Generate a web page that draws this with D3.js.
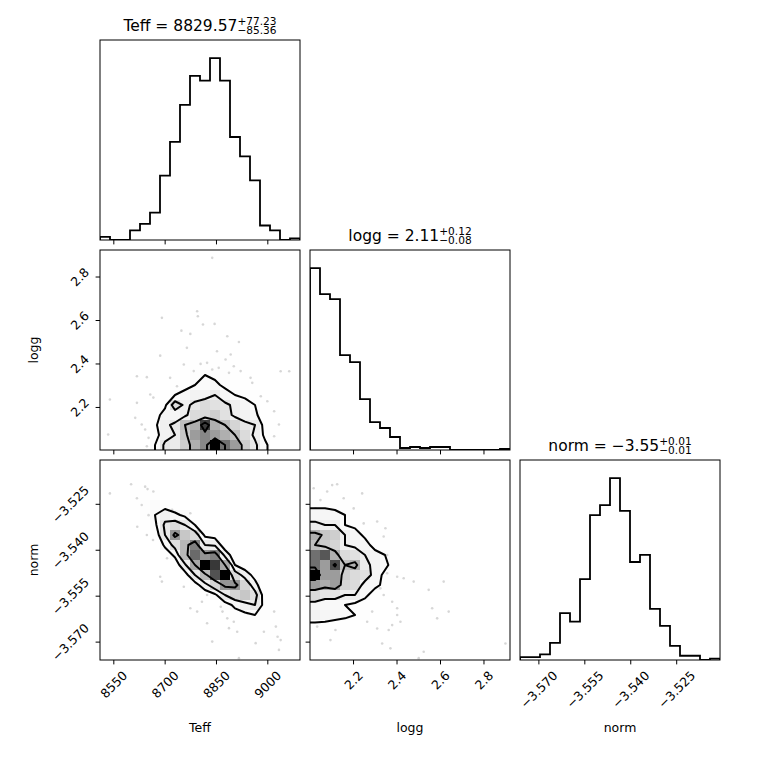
<!DOCTYPE html>
<html>
<head>
<meta charset="utf-8">
<script src="https://cdn.jsdelivr.net/npm/d3@7"></script>
<style>
  body { margin: 0; background: #fff; }
  text { font-family: "DejaVu Sans", sans-serif; fill: #000; }
</style>
</head>
<body>
<svg id="corner" width="760" height="760"></svg>
<script>
// parameters
const labels = ["Teff", "logg", "norm"];
const ranges = [[8511.1, 9095.5], [2.002, 2.922], [-3.5760, -3.5107]];
const nBins = 20;
const ticks = [[8550, 8700, 8850, 9000], [2.2, 2.4, 2.6, 2.8], [-3.570, -3.555, -3.540, -3.525]];
const tickFormats = [d3.format("d"), d3.format(".1f"), d3.format(".3f")];

// quantiles for the titles
const q50 = [8829.57, 2.11, -3.55];
const qPlus = [77.23, 0.12, 0.01];
const qMinus = [85.36, 0.08, 0.01];

// 1D histograms (counts per bin)
const histTeff = [2, 0, 0, 6, 10, 17, 40, 61, 84, 102, 99, 113, 99, 64, 52, 37, 9, 6, 0, 1];
const histLogg = [182, 156, 151, 95, 88, 51, 28, 22, 13, 2, 3, 2, 3, 3, 0, 0, 0, 0, 0, 1];
const histNorm = [2, 2, 4, 12, 33, 27, 57, 102, 109, 128, 105, 69, 74, 36, 24, 10, 3, 3, 0, 1];

// 2D histograms, first row = lowest bin of the y parameter
const gridTeffLogg = [
  [0,0,0,1,1,4,10,9,14,18,22,32,24,20,14,10,5,1,0,0],
  [1,0,0,1,0,2,7,9,15,20,22,20,18,16,12,8,3,2,0,0],
  [0,0,0,1,1,3,8,10,16,18,28,18,16,13,10,9,2,2,0,0],
  [0,0,0,1,0,2,6,6,8,12,12,14,11,8,7,5,1,1,0,1],
  [0,0,0,0,0,1,3,12,8,10,12,11,10,8,6,4,1,0,0,0],
  [1,0,0,0,0,1,2,4,5,7,7,9,6,4,3,2,1,0,0,0],
  [0,0,0,0,0,0,1,2,3,4,4,5,3,2,2,1,1,0,0,0],
  [0,0,0,0,1,0,0,1,2,3,4,3,3,2,1,1,0,1,0,0],
  [0,0,0,0,0,0,0,1,1,2,2,2,2,1,1,0,1,0,0,0],
  [0,0,0,0,0,0,0,0,0,0,1,0,1,0,0,0,0,0,0,0],
  [0,0,0,0,0,0,0,0,1,0,0,1,0,1,0,0,0,0,0,0],
  [0,0,0,0,0,0,0,0,0,0,1,0,1,0,0,0,0,0,0,0],
  [0,0,0,0,0,0,0,1,0,0,0,1,0,1,0,0,0,0,0,0],
  [0,0,0,0,0,0,0,0,0,0,1,0,0,0,0,0,0,0,0,0],
  [0,0,0,0,0,0,0,0,0,0,0,0,0,0,0,0,0,0,0,0],
  [0,0,0,0,0,0,0,0,0,0,0,0,0,0,0,0,0,0,0,0],
  [0,0,0,0,0,0,0,0,0,0,0,0,0,0,0,0,0,0,0,0],
  [0,0,0,0,0,0,0,0,0,0,0,0,0,0,0,0,0,0,0,0],
  [0,0,0,0,0,0,0,0,0,0,0,0,0,0,0,0,0,0,0,0],
  [0,0,0,0,0,0,0,0,0,0,0,1,0,0,0,0,0,0,0,0]
];
const gridTeffNorm = [
  [0,0,0,0,0,0,0,0,0,0,0,0,0,0,0,0,0,0,0,1],
  [0,0,0,0,0,0,0,0,0,0,0,0,0,0,0,0,0,1,0,0],
  [0,0,0,0,0,0,0,0,0,0,0,0,0,0,0,0,1,2,0,0],
  [0,0,0,0,0,0,0,0,0,0,0,0,0,0,0,2,1,2,0,0],
  [0,0,0,0,0,0,0,0,0,0,0,0,0,3,4,5,3,1,0,0],
  [0,0,0,0,0,0,0,0,0,0,0,1,3,6,8,10,3,0,0,0],
  [0,0,0,0,0,0,0,0,0,0,2,4,10,14,16,12,2,0,0,0],
  [0,0,0,0,0,0,0,0,0,3,8,14,22,22,14,7,0,0,0,0],
  [0,0,0,0,0,0,0,0,3,10,18,28,34,13,8,3,0,0,0,0],
  [0,0,0,0,0,0,0,2,9,20,34,30,20,5,2,0,0,0,0,0],
  [0,0,0,0,0,0,2,6,18,26,22,24,8,2,0,0,0,0,0,0],
  [0,0,0,0,0,0,6,12,18,24,10,9,2,0,0,0,0,0,0,0],
  [0,0,0,0,0,2,10,22,16,13,4,3,0,0,0,0,0,0,0,0],
  [0,0,0,0,2,4,11,13,10,5,1,0,0,0,0,0,0,0,0,0],
  [0,0,0,1,3,5,8,6,4,1,0,0,0,0,0,0,0,0,0,0],
  [0,0,0,2,3,4,3,2,0,0,0,0,0,0,0,0,0,0,0,0],
  [1,0,0,2,2,2,0,0,0,0,0,0,0,0,0,0,0,0,0,0],
  [1,0,0,1,0,0,0,0,0,0,0,0,0,0,0,0,0,0,0,0],
  [0,0,0,0,0,0,0,0,0,0,0,0,0,0,0,0,0,0,0,0],
  [0,0,0,0,0,0,0,0,0,0,0,0,0,0,0,0,0,0,0,0]
];
const gridLoggNorm = [
  [0,0,0,0,0,0,0,0,0,0,0,0,0,0,0,0,0,0,0,0],
  [0,0,0,0,0,0,0,0,0,0,0,1,0,0,0,0,0,0,0,0],
  [1,0,0,0,0,1,0,0,1,0,0,0,1,0,0,0,0,0,0,0],
  [3,3,2,2,1,0,0,1,0,0,1,0,0,0,0,0,0,0,0,0],
  [7,6,6,5,4,3,1,1,1,0,0,0,0,0,0,0,0,0,0,0],
  [6,5,5,4,3,2,1,1,0,1,0,0,1,1,0,0,0,0,0,1],
  [12,10,10,8,8,5,2,1,1,0,1,0,1,1,0,0,0,0,0,0],
  [20,18,20,13,12,6,5,3,2,1,1,1,0,1,0,0,0,0,0,0],
  [32,20,20,14,12,11,6,3,2,0,0,0,0,0,0,0,0,0,0,0],
  [24,20,27,16,18,9,7,5,2,0,0,0,0,0,0,0,0,0,0,0],
  [24,26,18,12,11,8,6,4,1,0,0,0,0,0,0,0,0,0,0,0],
  [16,14,13,8,7,6,2,2,1,0,0,0,0,0,0,0,0,0,0,0],
  [18,15,14,8,6,3,2,2,1,0,0,0,0,0,0,0,0,0,0,0],
  [9,8,8,4,3,1,1,1,1,0,0,0,0,0,0,0,0,0,0,0],
  [6,6,5,4,1,0,0,1,0,0,0,0,0,0,0,0,0,0,0,0],
  [3,3,3,2,0,0,0,0,0,0,0,0,0,0,0,0,0,0,0,0],
  [1,1,0,0,0,0,0,0,0,0,0,0,0,0,0,0,0,0,0,0],
  [0,1,1,0,0,0,0,0,0,0,0,0,0,0,0,0,0,0,0,0],
  [0,0,0,0,0,0,0,0,0,0,0,0,0,0,0,0,0,0,0,0],
  [0,0,0,0,0,0,0,0,0,0,0,0,0,0,0,0,0,0,0,0]
];

// samples visible outside the outer contour
const pointsTeffLogg = [
  [8839,2.886],[8692,2.610],[8795,2.640],[8797,2.617],[8846,2.582],[8812,2.579],[8749,2.551],
  [8775,2.536],[8883,2.525],[8917,2.499],[8687,2.436],[8765,2.472],[8756,2.395],[8805,2.398],
  [8824,2.403],[8839,2.372],[8858,2.380],[8878,2.418],[8902,2.387],[8785,2.365],[8888,2.357],
  [8922,2.365],[8619,2.341],[8648,2.337],[9039,2.364],[9064,2.364],[8540,2.234],[8619,2.219],
  [8658,2.257],[8667,2.243],[8614,2.150],[8633,2.119],[8643,2.096],[8653,2.058],[8648,2.019],
  [9020,2.180],[9034,2.119],[9020,2.065],[9000,2.226],[8981,2.249],[8956,2.311],[8990,2.019],
  [8535,2.073],[8951,2.334],[8716,2.334],[8736,2.295],[8893,2.441],[8853,2.456]
];
const pointsTeffNorm = [
  [8540,-3.5216],[8602,-3.5186],[8643,-3.5194],[8650,-3.5202],[8667,-3.5210],[8619,-3.5232],
  [8633,-3.5254],[8653,-3.5287],[8620,-3.5325],[8648,-3.5352],[8666,-3.5368],[8687,-3.5488],
  [8692,-3.5504],[8707,-3.5428],[8746,-3.5292],[8722,-3.5270],[8775,-3.5281],[8756,-3.5521],
  [8775,-3.5591],[8795,-3.5602],[8824,-3.5640],[8839,-3.5700],[8864,-3.5586],[8869,-3.5602],
  [8883,-3.5624],[8888,-3.5656],[8902,-3.5635],[8912,-3.5668],[8917,-3.5754],[8942,-3.5608],
  [8966,-3.5705],[8990,-3.5668],[9025,-3.5651],[9030,-3.5684],[9039,-3.5695],[9034,-3.5727],
  [9020,-3.5602],[8961,-3.5580],[8858,-3.5515],[8902,-3.5570],[8893,-3.5548],[8824,-3.5548],
  [8809,-3.5570]
];
const pointsLoggNorm = [
  [2.019,-3.5199],[2.081,-3.5210],[2.104,-3.5189],[2.127,-3.5186],[2.157,-3.5232],[2.242,-3.5216],
  [2.203,-3.5265],[2.050,-3.5238],[2.027,-3.5265],[2.249,-3.5314],[2.311,-3.5308],[2.349,-3.5330],
  [2.341,-3.5357],[2.357,-3.5417],[2.357,-3.5477],[2.403,-3.5488],[2.433,-3.5493],[2.479,-3.5504],
  [2.548,-3.5531],[2.617,-3.5504],[2.326,-3.5526],[2.341,-3.5548],[2.380,-3.5570],[2.403,-3.5591],
  [2.403,-3.5613],[2.418,-3.5635],[2.380,-3.5646],[2.364,-3.5662],[2.372,-3.5722],[2.334,-3.5706],
  [2.311,-3.5657],[2.288,-3.5602],[2.265,-3.5635],[2.502,-3.5754],[2.525,-3.5733],[2.564,-3.5591],
  [2.587,-3.5624],[2.640,-3.5602],[2.119,-3.5662],[2.096,-3.5695],[2.035,-3.5651],[2.019,-3.5613],
  [2.173,-3.5613],[2.901,-3.5706]
];

const sigmas = [0.5, 1.0, 1.5, 2.0];

// layout
const marginLeft = 100, marginTop = 40, size = 200, gap = 10;
const tickLen = 4.4, tickPad = 4.4, fontTick = 12.5, textH = 12.5;
const panelX = c => marginLeft + c * (size + gap);
const panelY = r => marginTop + r * (size + gap);

const svg = d3.select("#corner");
const defs = svg.append("defs");

const xScales = ranges.map((r, i) => d3.scaleLinear().domain(r).range([panelX(i), panelX(i) + size]));
const yScales = ranges.map((r, i) => d3.scaleLinear().domain(r).range([panelY(i) + size, panelY(i)]));
const edges = r => d3.range(nBins + 1).map(b => r[0] + b * (r[1] - r[0]) / nBins);

function clipFor(r, c) {
  const id = `clip-${r}-${c}`;
  defs.append("clipPath").attr("id", id).append("rect")
    .attr("x", panelX(c)).attr("y", panelY(r)).attr("width", size).attr("height", size);
  return `url(#${id})`;
}

// corner-style levels: density value enclosing each sigma mass fraction
function levelsFor(grid) {
  const flat = grid.flat().sort((a, b) => b - a);
  const total = d3.sum(flat);
  let cum = 0;
  const sm = flat.map(v => (cum += v) / total);
  const V = sigmas.map(s => {
    const frac = 1 - Math.exp(-0.5 * s * s);
    let v = flat[0];
    for (let n = 0; n < flat.length; n++) if (sm[n] <= frac) v = flat[n];
    return v;
  });
  V.sort((a, b) => a - b);
  let k = V.findIndex((v, n) => n > 0 && v === V[n - 1]);
  while (k > 0) {
    V[k - 1] *= 1 - 1e-4;
    V.sort((a, b) => a - b);
    k = V.findIndex((v, n) => n > 0 && v === V[n - 1]);
  }
  return V;
}

function padded(grid) {
  const ny = grid.length, nx = grid[0].length, W = nx + 4, Hh = ny + 4;
  const vals = new Array(W * Hh).fill(0);
  for (let r = 0; r < ny + 2; r++) {
    for (let c = 0; c < nx + 2; c++) {
      const sr = Math.min(Math.max(r - 1, 0), ny - 1);
      const sc = Math.min(Math.max(c - 1, 0), nx - 1);
      vals[(r + 1) * W + (c + 1)] = grid[sr][sc];
    }
  }
  return { vals, W, Hh };
}

// diagonal histograms
const hists = [histTeff, histLogg, histNorm];
hists.forEach((counts, i) => {
  const x = xScales[i];
  const e = edges(ranges[i]);
  const y = d3.scaleLinear().domain([0, 1.1 * d3.max(counts)]).range([panelY(i) + size, panelY(i)]);
  const pts = [[e[0], 0]];
  counts.forEach((n, b) => { pts.push([e[b], n]); pts.push([e[b + 1], n]); });
  pts.push([e[nBins], 0]);
  svg.append("path")
    .attr("clip-path", clipFor(i, i))
    .attr("d", d3.line().x(d => x(d[0])).y(d => y(d[1]))(pts))
    .attr("fill", "none").attr("stroke", "#000").attr("stroke-width", 1.8)
    .attr("stroke-linejoin", "miter");
});

// 2D panels
const pairs = [
  { row: 1, col: 0, grid: gridTeffLogg, points: pointsTeffLogg },
  { row: 2, col: 0, grid: gridTeffNorm, points: pointsTeffNorm },
  { row: 2, col: 1, grid: gridLoggNorm, points: pointsLoggNorm }
];

pairs.forEach(({ row, col, grid, points }) => {
  const X = xScales[col];
  const Y = d3.scaleLinear().domain(ranges[row]).range([panelY(row) + size, panelY(row)]);
  const ex = edges(ranges[col]), ey = edges(ranges[row]);
  const dX = ex[1] - ex[0], dY = ey[1] - ey[0];
  const g = svg.append("g").attr("clip-path", clipFor(row, col));

  g.selectAll("circle").data(points).join("circle")
    .attr("cx", d => X(d[0])).attr("cy", d => Y(d[1])).attr("r", 1.3)
    .attr("fill", "#000").attr("fill-opacity", 0.16);

  const V = levelsFor(grid);
  const hmax = d3.max(grid.flat());
  const { vals, W, Hh } = padded(grid);
  const contours = d3.contours().size([W, Hh]);
  const proj = d3.geoTransform({
    point(cx, cy) { this.stream.point(X(ex[0] + (cx - 2) * dX), Y(ey[0] + (cy - 2) * dY)); }
  });
  const path = d3.geoPath(proj);

  g.append("path").attr("d", path(contours.contour(vals, V[0])))
    .attr("fill", "#fff").attr("stroke", "none");

  const cells = [];
  grid.forEach((rowVals, yi) => rowVals.forEach((h, xi) => { if (h > 0) cells.push({ xi, yi, h }); }));
  g.selectAll("rect.cell").data(cells).join("rect")
    .attr("class", "cell")
    .attr("x", d => X(ex[d.xi])).attr("width", d => X(ex[d.xi + 1]) - X(ex[d.xi]))
    .attr("y", d => Y(ey[d.yi + 1])).attr("height", d => Y(ey[d.yi]) - Y(ey[d.yi + 1]))
    .attr("shape-rendering", "crispEdges")
    .attr("fill", d => { const t = (hmax - d.h) / hmax; return d3.rgb(255 * t, 255 * t, 255 * t); })
    .attr("fill-opacity", d => d.h / hmax);

  V.forEach(v => {
    g.append("path").attr("d", path(contours.contour(vals, v)))
      .attr("fill", "none").attr("stroke", "#000").attr("stroke-width", 2)
      .attr("stroke-linejoin", "round");
  });
});

// frames and ticks
function rotateLabels(axisG, side) {
  axisG.selectAll(".tick text").each(function () {
    const w = this.getComputedTextLength();
    const off = tickLen + tickPad + (w + textH) / (2 * Math.SQRT2);
    const t = side === "bottom" ? `translate(0,${off}) rotate(-45)` : `translate(${-off},0) rotate(-45)`;
    d3.select(this).attr("x", null).attr("y", null).attr("dy", null)
      .attr("text-anchor", "middle").attr("dominant-baseline", "central")
      .attr("transform", t);
  });
}

for (let r = 0; r < 3; r++) {
  for (let c = 0; c <= r; c++) {
    svg.append("rect").attr("x", panelX(c)).attr("y", panelY(r))
      .attr("width", size).attr("height", size)
      .attr("fill", "none").attr("stroke", "#000").attr("stroke-width", 1);

    const bx = svg.append("g").attr("transform", `translate(0,${panelY(r) + size})`)
      .call(d3.axisBottom(xScales[c]).tickValues(ticks[c]).tickSize(tickLen).tickPadding(tickPad)
        .tickFormat(r === 2 ? tickFormats[c] : () => ""));
    bx.attr("font-size", fontTick).attr("font-family", null);
    bx.select(".domain").remove();
    bx.selectAll(".tick line").attr("stroke-width", 1);
    rotateLabels(bx, "bottom");

    if (c < r) {
      const ly = svg.append("g").attr("transform", `translate(${panelX(c)},0)`)
        .call(d3.axisLeft(yScales[r]).tickValues(ticks[r]).tickSize(tickLen).tickPadding(tickPad)
          .tickFormat(c === 0 ? tickFormats[r] : () => ""));
      ly.attr("font-size", fontTick).attr("font-family", null);
      ly.select(".domain").remove();
      ly.selectAll(".tick line").attr("stroke-width", 1);
      rotateLabels(ly, "left");
    }
  }
}

// axis labels
labels.forEach((lab, i) => {
  svg.append("text").attr("x", panelX(i) + size / 2).attr("y", 731.5)
    .attr("text-anchor", "middle").attr("font-size", fontTick).text(lab);
});
[1, 2].forEach(i => {
  svg.append("text").attr("transform", `translate(38,${panelY(i) + size / 2}) rotate(-90)`)
    .attr("text-anchor", "middle").attr("font-size", fontTick).text(labels[i]);
});

// titles with asymmetric errors: one text, stacked super/subscript tspans
const f2 = d3.format(".2f");
labels.forEach((lab, i) => {
  const base = panelY(i) - 9.3;
  const t = svg.append("text");
  const main = t.append("tspan").attr("y", base).attr("font-size", 15.5).text(`${lab} = ${f2(q50[i])}`);
  const sup = t.append("tspan").attr("y", base - 5.6).attr("font-size", 10.6).text(`+${f2(qPlus[i])}`);
  const sub = t.append("tspan").attr("y", base + 3.6).attr("font-size", 10.6).text(`\u2212${f2(qMinus[i])}`);
  const mw = main.node().getComputedTextLength();
  const sw = Math.max(sup.node().getComputedTextLength(), sub.node().getComputedTextLength());
  const x0 = panelX(i) + size / 2 - (mw + sw) / 2;
  main.attr("x", x0);
  sup.attr("x", x0 + mw);
  sub.attr("x", x0 + mw);
});
</script>
</body>
</html>
